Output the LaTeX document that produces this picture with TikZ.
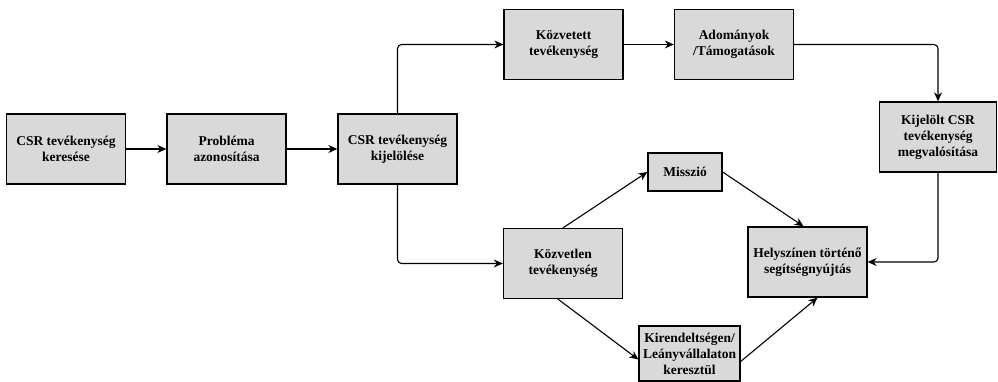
\documentclass[tikz,border=0pt]{standalone}
\usepackage{fontspec}
\setmainfont{Liberation Serif}
\usetikzlibrary{arrows.meta,positioning}
\definecolor{boxgray}{HTML}{D9D9D9}

\begin{document}
\begin{tikzpicture}[x=1pt,y=-1pt,
    box/.style={draw=black, line width=1.3pt, fill=boxgray, align=center,
        minimum width=119pt, minimum height=70pt, inner sep=2pt,
        font=\bfseries\fontsize{13.5}{16}\selectfont},
    link/.style={line width=1.1pt, rounded corners=4pt,
        -{Stealth[length=9pt,width=8pt]}}]
    \useasboundingbox (0,0) rectangle (998,382);

    % Main row
    \node[box] (keres) at (66,149) {CSR tevékenység\\keresése};
    \node[box] (probl) at (226.5,149) {Probléma\\azonosítása};
    \node[box] (kijel) at (397.5,149) {CSR tevékenység\\kijelölése};

    % Upper branch
    \node[box] (kozvetett) at (563.5,44.5) {Közvetett\\tevékenység};
    \node[box] (adomany) at (734,44.5) {Adományok\\/Támogatások};
    \node[box, minimum width=117pt] (megval) at (938,137) {Kijelölt CSR\\tevékenység\\megvalósítása};

    % Lower branch
    \node[box] (kozvetlen) at (563,263.5) {Közvetlen\\tevékenység};
    \node[box, minimum width=74pt, minimum height=38pt] (misszio) at (685,172) {Misszió};
    \node[box, minimum width=101pt, minimum height=55pt] (kirend) at (689.5,353.5) {Kirendeltségen/\\Leányvállalaton\\keresztül};
    \node[box] (helyszin) at (807.5,262) {Helyszínen történő\\segítségnyújtás};

    % Connectors
    \draw[link] (keres) -- (probl);
    \draw[link] (probl) -- (kijel);
    \draw[link] (kijel.north) |- (kozvetett.west);
    \draw[link] (kozvetett) -- (adomany);
    \draw[link] (adomany.east) -| (megval.north);
    \draw[link] (kijel.south) |- (kozvetlen.west);
    \draw[link] (kozvetlen.north) -- (misszio.west);
    \draw[link] (misszio.east) -- ([xshift=-4pt]helyszin.north);
    \draw[link] ([xshift=-5pt]kozvetlen.south) -- ([yshift=-6pt]kirend.west);
    \draw[link] ([yshift=-8pt]kirend.east) -- ([xshift=10pt]helyszin.south);
    \draw[link] (megval.south) |- (helyszin.east);
\end{tikzpicture}
\end{document}
